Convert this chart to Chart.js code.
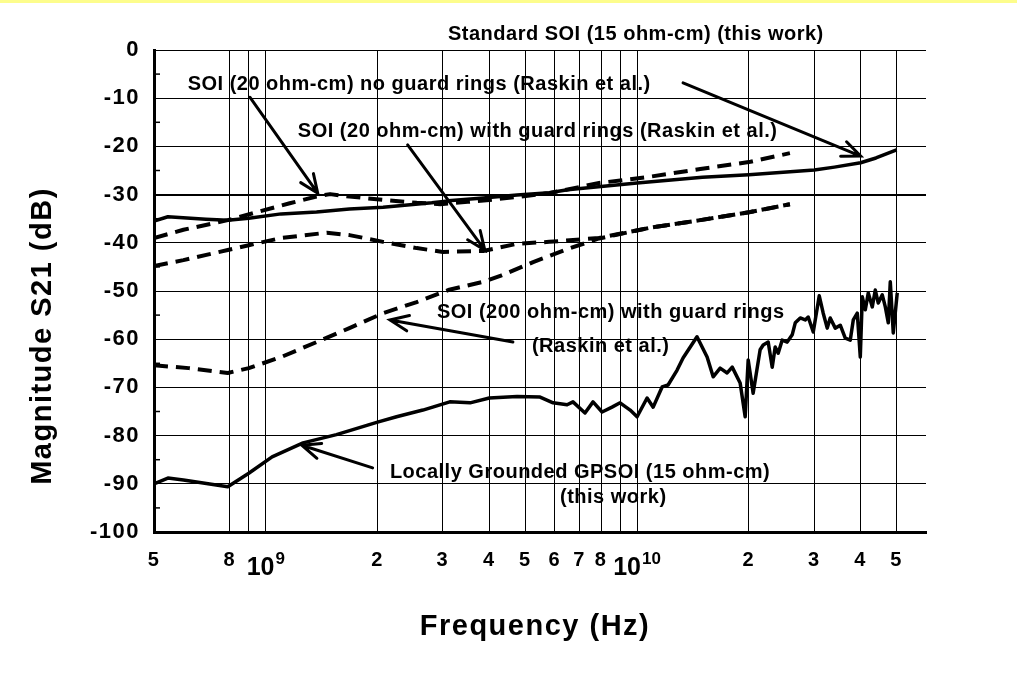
<!DOCTYPE html>
<html>
<head>
<meta charset="utf-8">
<script src="https://cdn.jsdelivr.net/npm/chart.js@4/dist/chart.umd.min.js"></script>
<style>
  html, body { margin: 0; padding: 0; background: #fff; }
  #wrap { width: 1017px; height: 673px; position: relative; }
</style>
</head>
<body>
<div id="wrap"><canvas id="chart1"></canvas></div>
<script>
// frequencies in GHz, magnitudes in dB

// Standard SOI (15 ohm-cm) (this work)
var stdFreq = [0.5, 0.545, 0.69, 0.79, 0.9, 1.1, 1.37, 1.68, 2.07, 2.8, 3.1, 3.85, 4.75, 5.8, 6.5, 10, 15, 20, 30, 34, 40, 44, 50];
var stdDb   = [-35.5, -34.6, -35.1, -35.3, -34.9, -34.0, -33.6, -33.0, -32.6, -31.7, -31.3, -30.7, -30.1, -29.6, -29.0, -27.6, -26.4, -25.9, -24.9, -24.3, -23.4, -22.4, -20.7];

// SOI (20 ohm-cm) no guard rings (Raskin et al.)
var noGuardFreq = [0.5, 0.6, 0.79, 0.95, 1.16, 1.37, 1.49, 1.68, 2.07, 2.55, 2.95, 3.5, 4.0, 4.75, 5.8, 7.9, 10.8, 14.8, 20.2, 25.8];
var noGuardDb   = [-39.0, -37.3, -35.3, -33.6, -31.8, -30.4, -29.9, -30.4, -31.1, -31.7, -32.0, -31.5, -31.1, -30.5, -29.7, -27.6, -26.3, -24.7, -23.2, -21.4];

// SOI (20 ohm-cm) with guard rings (Raskin et al.)
var guardFreq = [0.5, 0.6, 0.79, 0.9, 1.1, 1.46, 1.68, 2.07, 2.55, 3.0, 3.85, 4.75, 5.8, 7.9, 10.8, 14.8, 20.2, 25.8];
var guardDb   = [-44.8, -43.6, -41.5, -40.5, -39.0, -37.9, -38.4, -39.8, -41.1, -41.9, -41.7, -40.2, -39.8, -39.0, -36.9, -35.3, -33.6, -32.0];

// SOI (200 ohm-cm) with guard rings (Raskin et al.)
var ohm200Freq = [0.5, 0.62, 0.79, 0.9, 1.1, 1.37, 1.68, 2.07, 2.55, 3.1, 3.85, 4.3, 5.25, 6.5, 7.9, 10.8, 14.8, 20.2, 25.8];
var ohm200Db   = [-65.4, -66.0, -67.0, -66.0, -63.7, -60.6, -57.7, -54.6, -52.3, -49.8, -48.1, -46.8, -44.0, -41.3, -39.1, -36.9, -35.3, -33.6, -32.0];

// Locally Grounded GPSOI (15 ohm-cm) (this work)
var gpFreq = [0.5, 0.545, 0.6, 0.79, 0.9, 1.04, 1.26, 1.55, 2.0, 2.25, 2.65, 3.13, 3.55, 4.0, 4.75,
  5.48, 5.94, 6.48, 6.72, 7.24, 7.61, 8.05, 8.56, 9.0, 9.58, 10.0, 10.64, 11.05, 11.68, 12.12,
  12.82, 13.3, 14.5, 15.44, 16.03, 16.74, 17.48, 18.04, 18.95, 19.55, 19.92, 20.54, 21.45, 21.86, 22.55,
  23.12, 23.55, 23.99, 24.59, 25.37, 26.17, 26.67, 27.51, 28.37, 28.9, 29.82, 30.95, 31.72, 32.52, 33.13,
  34.18, 35.26, 36.37, 37.51, 38.22, 39.18, 39.92, 40.42, 41.18, 41.95, 43.0, 43.81, 44.63, 45.75, 46.62,
  47.49, 48.08, 48.98, 50.2];
var gpDb = [-90.0, -88.8, -89.2, -90.6, -87.8, -84.4, -81.5, -79.8, -77.2, -76.1, -74.7, -73.0, -73.2, -72.2, -71.9,
  -72.0, -73.2, -73.6, -73.0, -75.3, -73.0, -75.1, -74.1, -73.2, -74.7, -76.1, -72.2, -74.1, -69.9, -69.5,
  -66.4, -63.9, -59.5, -63.7, -67.8, -66.0, -67.0, -65.8, -69.1, -76.1, -64.3, -71.2, -62.2, -61.2, -60.6,
  -65.8, -61.6, -62.9, -60.2, -60.6, -59.1, -56.6, -55.6, -56.0, -55.4, -58.5, -51.0, -54.6, -57.7, -55.6,
  -57.7, -57.1, -59.8, -60.2, -56.0, -54.6, -63.7, -51.2, -53.9, -50.4, -53.3, -49.8, -52.5, -50.8, -53.3,
  -56.6, -48.1, -58.7, -50.4];

// axis ticks
var xTickValues = [0.5, 0.8, 0.9, 1, 2, 3, 4, 5, 6, 7, 8, 9, 10, 20, 30, 40, 50];
var xTickLabels = ['5', '8', '', '', '2', '3', '4', '5', '6', '7', '8', '', '', '2', '3', '4', '5'];
var decadeValues = [1, 10];
var decadeExps = ['9', '10'];
var yMinorTicks = [-5, -15, -25, -35, -45, -55, -65, -75, -85, -95];

// callout texts: [text, left freq, baseline dB]
var notes = [
  ['Standard SOI (15 ohm-cm) (this work)', 3.095, 2.1],
  ['SOI (20 ohm-cm) no guard rings (Raskin et al.)', 0.616, -8.3],
  ['SOI (20 ohm-cm) with guard rings (Raskin et al.)', 1.22, -18.0],
  ['SOI (200 ohm-cm) with guard rings', 2.89, -55.6],
  ['(Raskin et al.)', 5.21, -62.7],
  ['Locally Grounded GPSOI (15 ohm-cm)', 2.159, -88.8],
  ['(this work)', 6.2, -94.0]
];
// arrows: [from freq, from dB, to freq, to dB]
var arrows = [
  [13.3, -6.8, 40, -22],
  [0.906, -9.8, 1.38, -29.7],
  [2.41, -19.7, 3.89, -41.5],
  [4.63, -60.6, 2.16, -56.0],
  [1.94, -86.7, 1.25, -82.0]
];

var FONT = '"Liberation Sans", Arial, Helvetica, sans-serif';

function pts(f, d) {
  return f.map(function(v, i) { return { x: v, y: d[i] }; });
}

function drawArrow(ctx, x0, y0, x1, y1) {
  var a = Math.atan2(y1 - y0, x1 - x0), L = 20, w = 0.4;
  ctx.beginPath();
  ctx.moveTo(x0, y0);
  ctx.lineTo(x1, y1);
  ctx.moveTo(x1 - L * Math.cos(a - w), y1 - L * Math.sin(a - w));
  ctx.lineTo(x1, y1);
  ctx.lineTo(x1 - L * Math.cos(a + w), y1 - L * Math.sin(a + w));
  ctx.stroke();
}

var notesPlugin = {
  id: 'notes',
  beforeDraw: function(chart) {
    var ctx = chart.ctx;
    ctx.save();
    ctx.fillStyle = '#fff';
    ctx.fillRect(0, 0, chart.width, chart.height);
    ctx.fillStyle = '#fdfd8c';
    ctx.fillRect(0, 0, chart.width, 3);
    ctx.restore();
    // wider spacing for the axis tick digits
    ctx.letterSpacing = '1.5px';
  },
  afterDraw: function(chart) {
    var ctx = chart.ctx, xs = chart.scales.x, ys = chart.scales.y;
    ctx.save();
    ctx.fillStyle = '#000';
    ctx.strokeStyle = '#000';
    ctx.letterSpacing = '0px';

    // minor ticks on the left axis
    ctx.lineWidth = 1.5;
    yMinorTicks.forEach(function(v) {
      var py = ys.getPixelForValue(v);
      ctx.beginPath();
      ctx.moveTo(xs.left, py);
      ctx.lineTo(xs.left + 6, py);
      ctx.stroke();
    });

    // decade labels 10^9, 10^10
    ctx.textBaseline = 'alphabetic';
    ctx.textAlign = 'left';
    decadeValues.forEach(function(v, i) {
      ctx.font = 'bold 25px ' + FONT;
      var w1 = ctx.measureText('10').width;
      ctx.font = 'bold 17px ' + FONT;
      var w2 = ctx.measureText(decadeExps[i]).width;
      var px = xs.getPixelForValue(v) - (w1 + w2 + 1) / 2;
      ctx.font = 'bold 25px ' + FONT;
      ctx.fillText('10', px, xs.top + 43);
      ctx.font = 'bold 17px ' + FONT;
      ctx.fillText(decadeExps[i], px + w1 + 1, xs.top + 32);
    });

    // callout texts
    ctx.font = 'bold 20px ' + FONT;
    ctx.letterSpacing = '0.5px';
    notes.forEach(function(n) {
      ctx.fillText(n[0], xs.getPixelForValue(n[1]), ys.getPixelForValue(n[2]));
    });

    // arrows
    ctx.lineWidth = 3;
    ctx.lineCap = 'round';
    arrows.forEach(function(a) {
      drawArrow(ctx, xs.getPixelForValue(a[0]), ys.getPixelForValue(a[1]),
                xs.getPixelForValue(a[2]), ys.getPixelForValue(a[3]));
    });

    // axis titles
    ctx.letterSpacing = '1.5px';
    ctx.font = 'bold 29px ' + FONT;
    ctx.textAlign = 'center';
    ctx.fillText('Frequency (Hz)', 535, 635);
    ctx.translate(51, 336);
    ctx.rotate(-Math.PI / 2);
    ctx.fillText('Magnitude S21 (dB)', 0, 0);
    ctx.restore();
  }
};

var ctx = document.getElementById('chart1');
var myChart = new Chart(ctx, {
  type: 'line',
  data: {
    datasets: [
      { label: 'Standard SOI (15 ohm-cm) (this work)', data: pts(stdFreq, stdDb), borderWidth: 3.5 },
      { label: 'SOI (20 ohm-cm) no guard rings', data: pts(noGuardFreq, noGuardDb), borderWidth: 4, borderDash: [14, 8] },
      { label: 'SOI (20 ohm-cm) with guard rings', data: pts(guardFreq, guardDb), borderWidth: 4, borderDash: [14, 8] },
      { label: 'SOI (200 ohm-cm) with guard rings', data: pts(ohm200Freq, ohm200Db), borderWidth: 4, borderDash: [14, 8] },
      { label: 'Locally Grounded GPSOI (15 ohm-cm)', data: pts(gpFreq, gpDb), borderWidth: 3.5 }
    ]
  },
  options: {
    responsive: true,
    maintainAspectRatio: false,
    animation: false,
    layout: { padding: { top: 50, right: 91, left: 0, bottom: 0 } },
    elements: {
      point: { radius: 0 },
      line: { tension: 0, borderColor: '#000', fill: false, borderJoinStyle: 'round' }
    },
    plugins: { legend: { display: false }, tooltip: { enabled: false } },
    scales: {
      x: {
        type: 'logarithmic',
        min: 0.5,
        max: 60,
        afterBuildTicks: function(s) { s.ticks = xTickValues.map(function(v) { return { value: v }; }); },
        afterFit: function(s) { s.height = 141; },
        ticks: {
          autoSkip: false, maxRotation: 0, minRotation: 0, padding: 16, color: '#000',
          font: { family: FONT, size: 20, weight: 'bold' },
          callback: function(v, i) { return xTickLabels[i]; }
        },
        grid: { color: '#000', lineWidth: 1, drawTicks: false },
        border: { color: '#000', width: 3 }
      },
      y: {
        min: -100,
        max: 0,
        afterFit: function(s) { s.width = 154; },
        ticks: {
          stepSize: 10, padding: 14, color: '#000',
          font: { family: FONT, size: 22, weight: 'bold' }
        },
        grid: {
          color: '#000', drawTicks: false,
          lineWidth: function(c) { return c.tick && c.tick.value === -30 ? 2 : 1; }
        },
        border: { color: '#000', width: 3 }
      }
    }
  },
  plugins: [notesPlugin]
});
</script>
</body>
</html>
